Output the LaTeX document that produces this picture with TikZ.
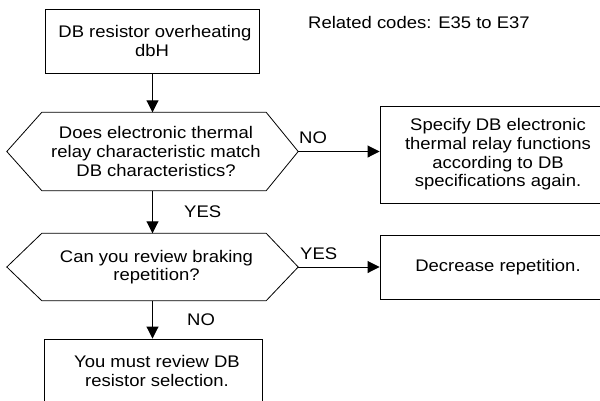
\documentclass[tikz,border=0pt]{standalone}
\usepackage{fontspec}
\setmainfont{Liberation Sans}[FakeStretch=1.1]
\usetikzlibrary{arrows.meta,calc}
\begin{document}
\begin{tikzpicture}[x=1pt,y=-1pt,
  every node/.style={font=\fontsize{16.8}{18.6}\selectfont, inner sep=0pt},
  box/.style={draw, line width=0.9pt, align=center},
  hexarea/.style={align=center, minimum width=291pt, minimum height=78pt},
  arr/.style={line width=0.9pt, -{Triangle[length=12pt,width=12pt]}},
  lbl/.style={anchor=base west}]
\useasboundingbox (0,0) rectangle (600,400);
\clip (0,0) rectangle (600,400);
\fill[white] (0,0) rectangle (600,400);
% boxes
\node[box, minimum width=214pt, minimum height=64pt] (b1) at (152,41) {\hspace*{6pt}DB resistor overheating\\dbH};
\node[hexarea] (h1) at (152.5,151.5) {\hspace*{7pt}Does electronic thermal\\\hspace*{7pt}relay characteristic match\\\hspace*{7pt}DB characteristics?};
\node[hexarea, minimum height=67pt] (h2) at (152.5,267) {\hspace*{8pt}Can you review braking\\\hspace*{8pt}repetition?};
\node[box, minimum width=236pt, minimum height=97pt] (b2) at (498,154.5) {Specify DB electronic\\thermal relay functions\\according to DB\\specifications again.};
\node[box, minimum width=236pt, minimum height=64pt] (b3) at (498,267) {Decrease repetition.};
\node[box, minimum width=218pt, minimum height=64pt] (b4) at (153,371) {\hspace*{8pt}You must review DB\\\hspace*{8pt}resistor selection.};
% hexagon outlines
\foreach \h in {h1,h2}{
  \draw[line width=0.8pt] (\h.west) -- ($(\h.north west)+(35,0)$) -- ($(\h.north east)+(-32,0)$) -- (\h.east)
    -- ($(\h.south east)+(-32,0)$) -- ($(\h.south west)+(35,0)$) -- cycle;
}
% connectors
\draw[arr] (b1.south -| h1.north) -- (h1.north);
\draw[arr] (h1.south) -- (h1.south |- h2.north);
\draw[arr] (h2.south) -- (h2.south |- b4.north);
\draw[arr] (h1.east) -- (h1.east -| b2.west);
\draw[arr] (h2.east) -- (h2.east -| b3.west);
% labels
\node[lbl] (lyes1) at (184,217) {YES};
\node[lbl] (lno1) at (299,143) {NO};
\node[lbl] (lyes2) at (300,259) {YES};
\node[lbl] (lno2) at (187,325) {NO};
\node[lbl] (rel) at (308,28.5) {Related codes: E35 to E37};
\end{tikzpicture}
\end{document}
